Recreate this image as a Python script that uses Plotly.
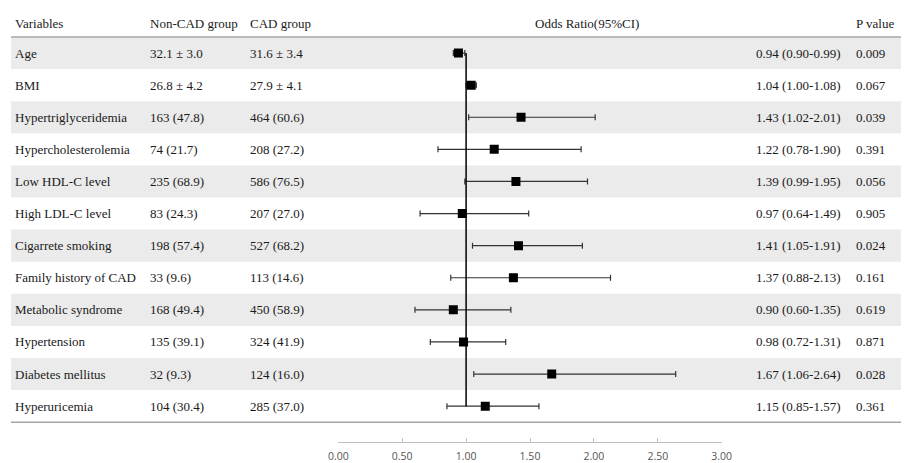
import plotly.graph_objects as go

variables = ["Age", "BMI", "Hypertriglyceridemia", "Hypercholesterolemia", "Low HDL-C level",
             "High LDL-C level", "Cigarrete smoking", "Family history of CAD", "Metabolic syndrome",
             "Hypertension", "Diabetes mellitus", "Hyperuricemia"]
non_cad = ["32.1 ± 3.0", "26.8 ± 4.2", "163 (47.8)", "74 (21.7)", "235 (68.9)", "83 (24.3)",
           "198 (57.4)", "33 (9.6)", "168 (49.4)", "135 (39.1)", "32 (9.3)", "104 (30.4)"]
cad = ["31.6 ± 3.4", "27.9 ± 4.1", "464 (60.6)", "208 (27.2)", "586 (76.5)", "207 (27.0)",
       "527 (68.2)", "113 (14.6)", "450 (58.9)", "324 (41.9)", "124 (16.0)", "285 (37.0)"]
odds = [0.94, 1.04, 1.43, 1.22, 1.39, 0.97, 1.41, 1.37, 0.90, 0.98, 1.67, 1.15]
ci_low = [0.90, 1.00, 1.02, 0.78, 0.99, 0.64, 1.05, 0.88, 0.60, 0.72, 1.06, 0.85]
ci_high = [0.99, 1.08, 2.01, 1.90, 1.95, 1.49, 1.91, 2.13, 1.35, 1.31, 2.64, 1.57]
p_values = ["0.009", "0.067", "0.039", "0.391", "0.056", "0.905", "0.024", "0.161", "0.619",
            "0.871", "0.028", "0.361"]
tick_vals = [0.0, 0.5, 1.0, 1.5, 2.0, 2.5, 3.0]
tick_text = ["0.00", "0.50", "1.00", "1.50", "2.00", "2.50", "3.00"]

# page body has an 8px default margin: figure sits at (8, 8) in the window
OFF = 8
W, H = 909 - OFF, 463 - OFF
def px(x):
    return (x - OFF) / W

rows = list(range(len(variables)))

serif = "Liberation Serif, Times New Roman, serif"
fs = 13
txt_color = "#1a1a1a"

fig = go.Figure()

fig.add_trace(go.Scatter(
    x=odds, y=rows, mode="markers",
    marker=dict(symbol="square", size=9, color="black"),
    error_x=dict(type="data", symmetric=False,
                 array=[h - o for h, o in zip(ci_high, odds)],
                 arrayminus=[o - l for o, l in zip(odds, ci_low)],
                 color="#333333", thickness=1.2, width=3),
    hoverinfo="skip", showlegend=False,
))

shapes = []
for i in rows:
    if i % 2 == 0:
        shapes.append(dict(type="rect", xref="paper", yref="y", x0=px(11), x1=1.0,
                           y0=i - 0.5, y1=i + 0.5, fillcolor="#ebebeb",
                           line=dict(width=0), layer="below"))
for yv in [-1.5, -0.5, len(rows) - 0.5]:
    shapes.append(dict(type="line", xref="paper", yref="y", x0=px(11), x1=px(907),
                       y0=yv, y1=yv, line=dict(color="#a6a6a6", width=1.5)))
shapes.append(dict(type="line", xref="x", yref="y", x0=1, x1=1, y0=0, y1=len(rows) - 1,
                   line=dict(color="black", width=1.5)))

ann = []
def add(text, x, y, anchor="left"):
    ann.append(dict(text=text, x=px(x), y=y, xref="paper", yref="y", showarrow=False,
                    xanchor=anchor, yanchor="middle",
                    font=dict(family=serif, size=fs, color=txt_color)))

hy = -0.93
add("Variables", 13, hy)
add("Non-CAD group", 148, hy)
add("CAD group", 248, hy)
add("Odds Ratio(95%CI)", 533, hy)
add("P value", 854, hy)
for i in rows:
    add(variables[i], 13, i)
    add(non_cad[i], 148, i)
    add(cad[i], 248, i)
    add(f"{odds[i]:.2f} ({ci_low[i]:.2f}-{ci_high[i]:.2f})", 843, i, anchor="right")
    add(p_values[i], 854, i)

row_top = 37.0 - OFF
row_h = 32.1
y_top = -row_top / row_h - 0.5
y_bot = (H - row_top) / row_h - 0.5

fig.update_layout(
    width=W, height=H,
    margin=dict(l=0, r=0, t=0, b=0, autoexpand=False),
    paper_bgcolor="white", plot_bgcolor="rgba(0,0,0,0)",
    shapes=shapes, annotations=ann,
    xaxis=dict(domain=[px(338.3), px(721.7)], range=[0, 3], anchor="free",
               position=1 - (442 - OFF) / H, showgrid=False, zeroline=False, automargin=False,
               showline=True, linecolor="#bfbfbf", linewidth=1,
               ticks="inside", ticklen=4, tickcolor="#bfbfbf", ticklabelstandoff=4,
               tickvals=tick_vals, ticktext=tick_text,
               tickfont=dict(family="Open Sans, sans-serif", size=10.5, color="#555555")),
    yaxis=dict(domain=[0, 1], range=[y_bot, y_top], visible=False, automargin=False),
)

fig.write_html("out.html")
